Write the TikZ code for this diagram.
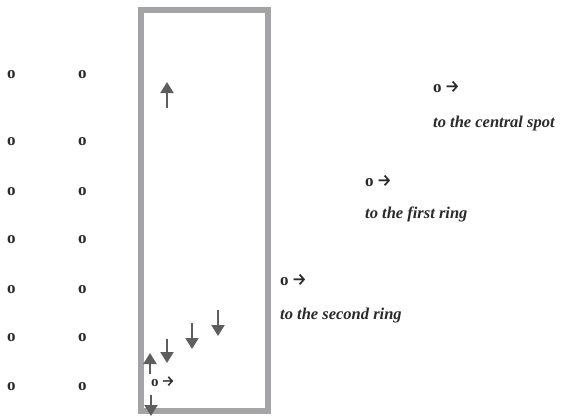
\documentclass[tikz,border=0pt]{standalone}
\usepackage{fontspec}
\setmainfont{Liberation Serif}
\newfontfamily\arrfont[FakeBold=0.6]{Fira Sans}
\usetikzlibrary{arrows.meta}
\definecolor{boxgray}{HTML}{A4A4A6}
\definecolor{arrgray}{HTML}{5E5E60}
\definecolor{txt}{HTML}{2A2A2A}
\newcommand{\oarr}{o\,{\arrfont\mdseries →}}
\tikzset{
  lbl/.style={anchor=base west, inner sep=0pt, text=txt, font=\fontsize{17}{20}\selectfont\bfseries},
  itl/.style={lbl, font=\fontsize{16.5}{20}\selectfont\bfseries\itshape},
  olbl/.style={lbl, font=\fontsize{17}{20}\selectfont\bfseries},
  flow/.style={draw=arrgray, line width=2pt, -{Triangle[width=13pt,length=11pt]}},
  frame/.style={draw=boxgray, line width=6pt}
}
\begin{document}
\begin{tikzpicture}[x=1pt,y=-1pt]
\useasboundingbox (0,0) rectangle (561,416);
% frame
\draw[frame] (140.5,10) rectangle (268,411);
% left columns
\foreach \y [count=\i] in {78,145,195,243,293,341,390}{
  \node[olbl] (l\i) at (7,\y) {o};
  \node[olbl] (r\i) at (78,\y) {o};
}
% arrows
\coordinate (a1t) at (167,108); \coordinate (a1h) at (167,82);
\draw[flow] (a1t) -- (a1h);
\coordinate (d3t) at (218,310); \coordinate (d3h) at (218,336);
\draw[flow] (d3t) -- (d3h);
\coordinate (d2t) at (192,323); \coordinate (d2h) at (192,349);
\draw[flow] (d2t) -- (d2h);
\coordinate (d1t) at (167,339); \coordinate (d1h) at (167,363);
\draw[flow] (d1t) -- (d1h);
\coordinate (u1t) at (150,374); \coordinate (u1h) at (150,353);
\draw[flow] (u1t) -- (u1h);
\coordinate (b1t) at (151,395); \coordinate (b1h) at (151,416);
\draw[flow] (b1t) -- (b1h);
% labels
\node[lbl, font=\fontsize{15}{18}\selectfont\bfseries] (o0) at (151,386) {\oarr};
\node[lbl] (o1) at (433,92) {\oarr};
\node[itl] (t1) at (433,127) {to the central spot};
\node[lbl] (o2) at (365,186) {\oarr};
\node[itl] (t2) at (365,218) {to the first ring};
\node[lbl] (o3) at (280,285) {\oarr};
\node[itl] (t3) at (280,319) {to the second ring};
\end{tikzpicture}
\end{document}
